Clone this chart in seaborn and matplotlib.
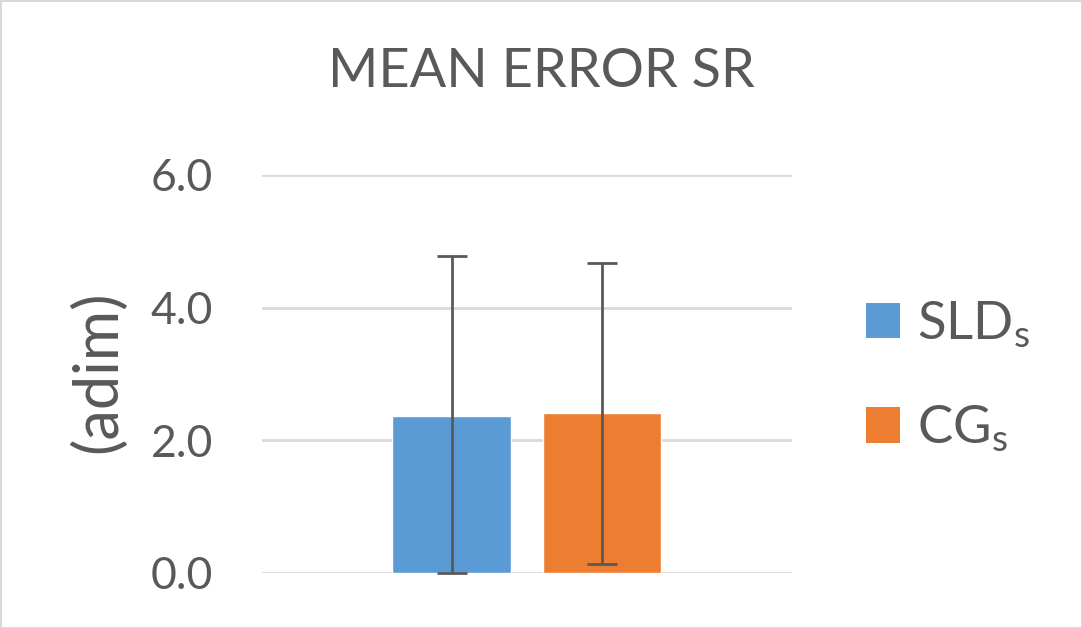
import matplotlib
matplotlib.use('Agg')
import matplotlib.pyplot as plt
from matplotlib.patches import Patch
import seaborn as sns
import pandas as pd

# values
groups = ['SLD$_\\mathregular{s}$', 'CG$_\\mathregular{s}$']
means = [2.37, 2.41]
err_low = [2.37, 2.27]
err_high = [2.41, 2.27]
colors = ['#5B9BD5', '#ED7D31']
yticks = [0.0, 2.0, 4.0, 6.0]

TEXT = '#595959'
GRID = '#d9d9d9'

sns.set_style('white')
plt.rcParams['font.family'] = ['Lato', 'DejaVu Sans']
plt.rcParams['mathtext.fontset'] = 'custom'
plt.rcParams['mathtext.rm'] = 'Lato'

df = pd.DataFrame({'group': groups, 'mean': means})

fig = plt.figure(figsize=(10.82, 6.28), dpi=100)
fig.patch.set_edgecolor(GRID)
fig.patch.set_linewidth(2)
ax = fig.add_axes([0.2421, 0.0876, 0.4898, 0.6338])

sns.barplot(data=df, x='group', y='mean', hue='group', palette=colors,
            width=0.787, errorbar=None, ax=ax, saturation=1, zorder=3,
            legend=False)

centers = [p.get_x() + p.get_width() / 2 for p in ax.patches]
ax.errorbar(centers, means, yerr=[err_low, err_high], fmt='none',
            ecolor=TEXT, elinewidth=2, capsize=11, capthick=2, zorder=4,
            clip_on=False)

ax.set_ylim(0, 6)
ax.set_xlim(-1.26, 2.26)
ax.set_yticks(yticks)
ax.set_yticklabels([f'{t:.1f}' for t in yticks])
ax.set_xticks([])
ax.set_xlabel('')
ax.set_ylabel('(adim)', fontsize=44, color=TEXT)
ax.yaxis.set_label_coords(-0.255, 0.505)
ax.tick_params(axis='y', length=0, pad=35, labelsize=32, labelcolor=TEXT)
ax.grid(axis='y', color=GRID, linewidth=2, zorder=0)
ax.set_axisbelow(True)
sns.despine(ax=ax, left=True, bottom=True, right=True, top=True)

fig.text(0.5, 0.862, 'MEAN ERROR SR', ha='center', va='baseline',
         fontsize=39, color=TEXT)

handles = [Patch(facecolor=c, edgecolor='none') for c in colors]
fig.legend(handles, groups, loc='upper left', bbox_to_anchor=(0.800, 0.524),
           frameon=False, fontsize=38, labelcolor=TEXT, handlelength=0.66,
           handleheight=0.66, handletextpad=0.32, labelspacing=1.02,
           borderpad=0, borderaxespad=0)

fig.savefig('out.png', dpi=100)
